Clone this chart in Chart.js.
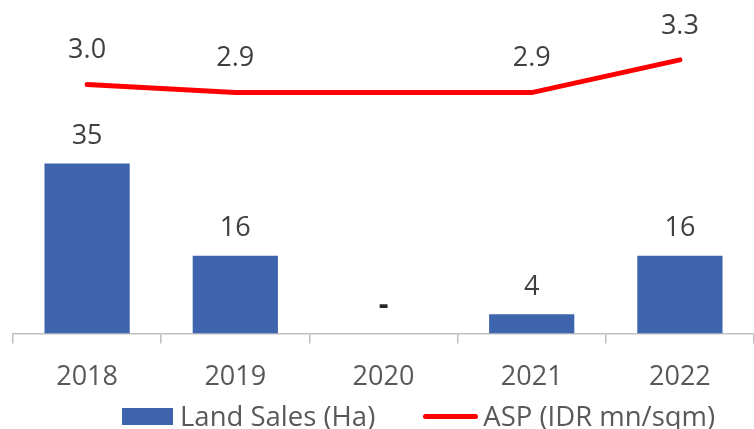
<!DOCTYPE html>
<html>
<head>
<meta charset="utf-8">
<script src="https://cdn.jsdelivr.net/npm/chart.js@4/dist/chart.umd.min.js"></script>
<style>
  body { margin: 0; background: #fff; }
  #wrap { position: relative; width: 754px; height: 429px; }
  #legend { position: absolute; left: 122px; top: 401px; display: flex; gap: 48px;
            font-family: 'Open Sans', sans-serif; font-size: 27.5px; color: #595959; line-height: 30px; }
  .item { display: flex; align-items: center; }
  .box { width: 51px; height: 17px; background: #3D64AD; margin-right: 7px; }
  .ln { width: 55px; height: 5px; border-radius: 3px; background: #FF0000; margin-right: 5px; }
</style>
</head>
<body>
<div id="wrap">
  <canvas id="chart1" width="754" height="429"></canvas>
  <div id="legend">
    <div class="item"><span class="box"></span>Land Sales (Ha)</div>
    <div class="item"><span class="ln"></span>ASP (IDR mn/sqm)</div>
  </div>
</div>
<script>
const years = ['2018', '2019', '2020', '2021', '2022'];
const landSales = [35, 16, 0, 4, 16];
const asp = [3.0, 2.9, null, 2.9, 3.3];

// draws value labels above bars and line points
const valueLabels = {
    id: 'valueLabels',
    afterDatasetsDraw(chart) {
        const c = chart.ctx;
        c.save();
        c.fillStyle = '#404040';
        c.textAlign = 'center';
        c.textBaseline = 'middle';
        chart.data.datasets.forEach((ds, i) => {
            const meta = chart.getDatasetMeta(i);
            meta.data.forEach((el, j) => {
                const v = ds.data[j];
                if (v === null) return;
                c.font = '27px "Open Sans"';
                if (ds.type === 'line') {
                    c.fillText(v.toFixed(1), el.x, el.y - 34);
                } else if (v === 0) {
                    c.font = 'bold 30px "Open Sans"';
                    c.fillStyle = '#262626';
                    c.fillText('-', el.x, el.y - 28);
                    c.fillStyle = '#404040';
                } else {
                    c.fillText(String(v), el.x, el.y - 27);
                }
            });
        });
        c.restore();
    }
};

const ctx = document.getElementById('chart1').getContext('2d');
const chart1 = new Chart(ctx, {
    data: {
        labels: years,
        datasets: [
            {
                type: 'line',
                label: 'ASP (IDR mn/sqm)',
                data: asp,
                yAxisID: 'y1',
                borderColor: '#FF0000',
                borderWidth: 5,
                borderCapStyle: 'round',
                pointRadius: 0,
                spanGaps: true,
                tension: 0,
                order: 0
            },
            {
                type: 'bar',
                label: 'Land Sales (Ha)',
                data: landSales,
                yAxisID: 'y',
                backgroundColor: '#3D64AD',
                barPercentage: 1,
                categoryPercentage: 0.575,
                order: 1
            }
        ]
    },
    options: {
        responsive: false,
        animation: false,
        layout: { padding: { left: 13, right: 0, top: 0, bottom: 17 } },
        scales: {
            x: {
                offset: true,
                grid: { offset: true, drawOnChartArea: false, color: '#BFBFBF', tickLength: 10, lineWidth: 1.5 },
                border: { color: '#BFBFBF', width: 1.5 },
                ticks: { color: '#595959', font: { family: 'Open Sans', size: 27 }, padding: 18 }
            },
            y: { display: false, min: 0, max: 68.6 },
            y1: { display: false, min: -0.04, max: 4.03 }
        },
        plugins: {
            legend: { display: false },
            tooltip: { enabled: false }
        }
    },
    plugins: [valueLabels]
});
</script>
</body>
</html>
